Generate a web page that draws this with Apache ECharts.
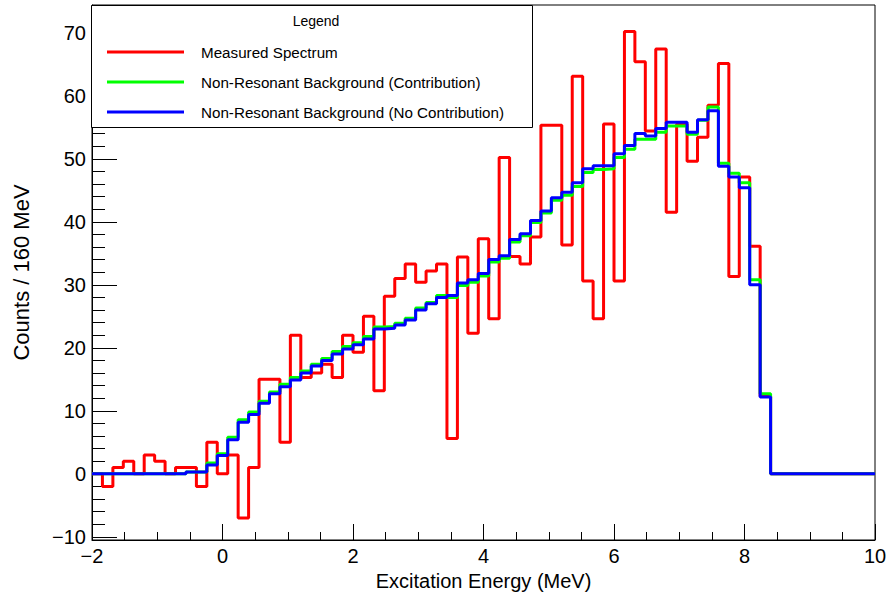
<!DOCTYPE html>
<html><head><meta charset="utf-8">
<script src="https://cdn.jsdelivr.net/npm/echarts@6/dist/echarts.min.js"></script>
<style>html,body{margin:0;padding:0;background:#fff}#c{width:888px;height:592px}</style>
</head><body><div id="c"></div>
<script>
// Histogram binning: 75 bins of 0.16 MeV from -2 to 10 MeV
const binStart = -2;
const binWidth = 0.16;

// Measured spectrum (red)
const measured = [
  0, -2, 1, 2, 0, 3, 2, 0, 1, 1,
  -2, 5, 0, 3, -7, 1, 15, 15, 5, 22,
  15.3, 16, 17.4, 15.3, 22, 19.3, 25, 13.2, 28.2, 31,
  33.3, 30.4, 32.2, 33.3, 5.6, 34.4, 22.3, 37.3, 24.6, 50.2,
  34.5, 33.3, 37.6, 55.3, 55.3, 36.3, 63.1, 30.6, 24.6, 55.5,
  30.6, 70.2, 65.4, 54.4, 67.4, 41.5, 55.5, 49.6, 53.4, 58.5,
  65.1, 31.3, 47.1, 36.1, 12.3, 0, 0, 0, 0, 0,
  0, 0, 0, 0, 0
];

// Non-resonant background (contribution) (green)
const bgContribution = [
  0, 0, 0, 0, 0, 0, 0, 0, 0, 0.3,
  0.3, 1.7, 3.2, 5.8, 8.6, 9.8, 11.5, 13.0, 14.2, 15.3,
  16.3, 17.4, 18.3, 19.4, 20.2, 20.8, 21.8, 23.3, 23.4, 23.9,
  24.7, 26.3, 27.2, 28.3, 28.0, 29.9, 30.4, 31.4, 33.6, 34.2,
  36.8, 37.8, 39.9, 41.4, 43.4, 44.2, 45.6, 47.8, 48.3, 48.4,
  50.2, 51.5, 53.1, 53.1, 54.2, 55.2, 55.2, 53.9, 56.1, 58.2,
  49.3, 47.7, 46.2, 30.8, 12.7, 0, 0, 0, 0, 0,
  0, 0, 0, 0, 0
];

// Non-resonant background (no contribution) (blue)
const bgNoContribution = [
  0, 0, 0, 0, 0, 0, 0, 0, 0, 0.3,
  0.3, 1.4, 2.9, 5.4, 8.2, 9.4, 11.2, 12.7, 13.8, 14.9,
  16.0, 17.1, 18.0, 19.0, 19.8, 20.5, 21.4, 23.0, 23.1, 23.6,
  24.4, 26.0, 27.0, 28.0, 28.3, 30.3, 30.8, 31.8, 34.0, 34.6,
  37.2, 38.1, 40.2, 41.7, 43.8, 44.7, 46.2, 48.4, 48.9, 48.9,
  50.8, 52.1, 54.0, 53.6, 54.8, 55.8, 55.8, 54.2, 56.2, 57.6,
  48.8, 47.1, 45.4, 30.0, 12.2, 0, 0, 0, 0, 0,
  0, 0, 0, 0, 0
];

const seriesNames = [
  'Measured Spectrum',
  'Non-Resonant Background (Contribution)',
  'Non-Resonant Background (No Contribution)'
];
const seriesColors = ['#ff0000', '#00ff00', '#0000ff'];

function toSteps(vals) {
  const pts = [];
  for (let i = 0; i < vals.length; i++) {
    pts.push([+(binStart + i * binWidth).toFixed(4), vals[i]]);
  }
  pts.push([+(binStart + vals.length * binWidth).toFixed(4), vals[vals.length - 1]]);
  return pts;
}

function fmt(v) {
  if (Math.abs(v - Math.round(v)) > 1e-6 || Math.round(v) % 2 !== 0) return '';
  return v < 0 ? '\u2212' + Math.abs(v) : String(v);
}

const FONT = 'Liberation Sans, Arial, Helvetica, sans-serif';
const chart = echarts.init(document.getElementById('c'), null, { renderer: 'svg' });
chart.setOption({
  animation: false,
  backgroundColor: '#fff',
  grid: { left: 92, right: 13, top: 5, bottom: 52, show: true, borderColor: '#000', borderWidth: 1, containLabel: false, outerBoundsMode: 'none' },
  xAxis: {
    type: 'value', min: -2, max: 10, interval: 2,
    name: 'Excitation Energy (MeV)', nameLocation: 'middle', nameGap: 26,
    nameTextStyle: { fontFamily: FONT, fontSize: 20, color: '#000' },
    axisLine: { show: true, onZero: false, lineStyle: { color: '#000', width: 1 } },
    axisTick: { show: true, inside: true, length: 16, lineStyle: { color: '#000' } },
    minorTick: { show: true, splitNumber: 4, length: 8, lineStyle: { color: '#000' } },
    splitLine: { show: false },
    axisLabel: { fontFamily: FONT, fontSize: 20, color: '#000', margin: 6, formatter: fmt }
  },
  yAxis: {
    type: 'value', min: -10.5, max: 74.4, splitNumber: 8,
    name: 'Counts / 160 MeV', nameLocation: 'middle', nameGap: 60,
    nameTextStyle: { fontFamily: FONT, fontSize: 22, color: '#000' },
    axisLine: { show: true, onZero: false, lineStyle: { color: '#000', width: 1 } },
    axisTick: { show: true, inside: true, length: 25, lineStyle: { color: '#000' } },
    minorTick: { show: true, splitNumber: 5, length: 13, lineStyle: { color: '#000' } },
    splitLine: { show: false },
    axisLabel: { fontFamily: FONT, fontSize: 20, color: '#000', margin: 6, formatter: function (v) { return Math.abs(v % 10) < 1e-6 ? fmt(v) : ''; }, showMinLabel: false, showMaxLabel: false }
  },
  legend: {
    data: seriesNames, orient: 'vertical', left: 107, top: 43, padding: 0,
    itemGap: 12, itemWidth: 77, itemHeight: 3, icon: 'rect', selectedMode: false, z: 20,
    textStyle: { fontFamily: FONT, fontSize: 15.2, color: '#000', lineHeight: 18, padding: [0, 0, 0, 12] }
  },
  graphic: [
    { type: 'rect', z: 10, shape: { x: 91.5, y: 5.5, width: 441, height: 122 }, style: { fill: '#fff', stroke: '#000', lineWidth: 1 } },
    { type: 'text', z: 20, style: { text: 'Legend', x: 316, y: 21, textAlign: 'center', textVerticalAlign: 'middle', font: '14px ' + FONT, fill: '#000' } }
  ],
  series: [
    { name: seriesNames[0], type: 'line', step: 'end', data: toSteps(measured), showSymbol: false, color: seriesColors[0], lineStyle: { width: 3, color: seriesColors[0] }, z: 2 },
    { name: seriesNames[1], type: 'line', step: 'end', data: toSteps(bgContribution), showSymbol: false, color: seriesColors[1], lineStyle: { width: 3, color: seriesColors[1] }, z: 3 },
    { name: seriesNames[2], type: 'line', step: 'end', data: toSteps(bgNoContribution), showSymbol: false, color: seriesColors[2], lineStyle: { width: 3, color: seriesColors[2] }, z: 4 }
  ]
});
</script></body></html>
